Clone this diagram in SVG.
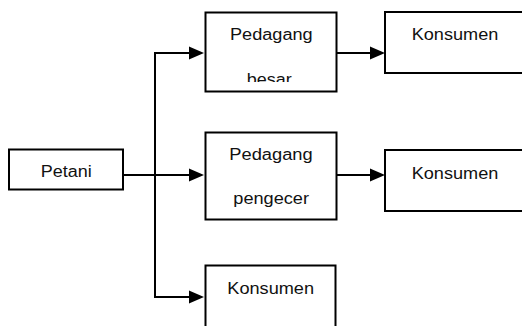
<svg xmlns="http://www.w3.org/2000/svg" width="522" height="326" viewBox="0 0 522 326">
<style>
.box{fill:#fff;stroke:#000;stroke-width:2}
.t{font-family:"Liberation Sans",Arial,sans-serif;font-size:16px;fill:#111}
.c{fill:none;stroke:#000;stroke-width:2}
</style>
<defs>
<marker id="ah" markerUnits="userSpaceOnUse" markerWidth="16" markerHeight="14" refX="0" refY="7" orient="auto">
<path d="M0,0.5 L15,7 L0,13.5 z" fill="#000"/>
</marker>
<clipPath id="clipB"><rect x="200" y="0" width="140" height="82"/></clipPath>
</defs>
<rect width="522" height="326" fill="#fff"/>
<g id="connectors">
<path class="c" d="M123,175 H189" marker-end="url(#ah)"/>
<path class="c" d="M189,53 H155 V297 H189" marker-end="url(#ah)"/>
<path class="c" d="M155,53 H189" marker-end="url(#ah)"/>
<path class="c" d="M336,53 H370" marker-end="url(#ah)"/>
<path class="c" d="M336,175 H370" marker-end="url(#ah)"/>
</g>
<g id="petani">
<rect class="box" x="9" y="149.5" width="114" height="40"/>
<text class="t" x="40.7" y="177.3" textLength="51" lengthAdjust="spacingAndGlyphs">Petani</text>
</g>
<g id="pedagang-besar">
<rect class="box" x="205.5" y="12.5" width="131" height="79"/>
<text class="t" x="230" y="40" textLength="82.7" lengthAdjust="spacingAndGlyphs">Pedagang</text>
<text class="t" x="246.7" y="84.5" textLength="45" lengthAdjust="spacingAndGlyphs" clip-path="url(#clipB)">besar</text>
</g>
<g id="konsumen-1">
<rect class="box" x="385" y="12" width="150" height="61"/>
<text class="t" x="411.7" y="40" textLength="86.6" lengthAdjust="spacingAndGlyphs">Konsumen</text>
</g>
<g id="pedagang-pengecer">
<rect class="box" x="205.5" y="132.5" width="131" height="87"/>
<text class="t" x="229.3" y="160" textLength="83.4" lengthAdjust="spacingAndGlyphs">Pedagang</text>
<text class="t" x="233.3" y="204.3" textLength="75.7" lengthAdjust="spacingAndGlyphs">pengecer</text>
</g>
<g id="konsumen-2">
<rect class="box" x="385" y="150" width="150" height="61"/>
<text class="t" x="411.7" y="179" textLength="86.6" lengthAdjust="spacingAndGlyphs">Konsumen</text>
</g>
<g id="konsumen-3">
<rect class="box" x="205.5" y="265.5" width="130" height="80"/>
<text class="t" x="227.3" y="294.3" textLength="86.7" lengthAdjust="spacingAndGlyphs">Konsumen</text>
</g>
</svg>
